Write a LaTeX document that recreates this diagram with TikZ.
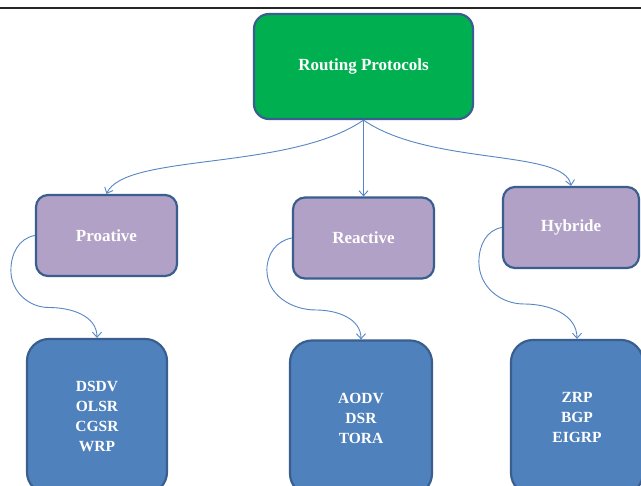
\documentclass[tikz,border=0pt]{standalone}
\usepackage{fontspec}
\setmainfont{Liberation Serif}
\usetikzlibrary{arrows.meta}
\definecolor{rootgreen}{HTML}{00B050}
\definecolor{boxborder}{HTML}{3A5F8E}
\definecolor{lavender}{HTML}{B2A1C7}
\definecolor{boxblue}{HTML}{4F81BD}
\definecolor{connblue}{HTML}{5687C4}
\tikzset{
  base/.style={draw=boxborder, line width=2.2pt, text=white, align=center, inner sep=0pt,
    font=\fontsize{17}{20}\selectfont\bfseries},
  rootbox/.style={base, fill=rootgreen, rounded corners=15pt, minimum width=219pt, minimum height=105pt},
  midbox/.style={base, fill=lavender, rounded corners=12pt, minimum height=81pt},
  leafbox/.style={base, fill=boxblue, rounded corners=22pt, minimum height=155pt,
    font=\fontsize{15.5}{20}\selectfont\bfseries},
  conn/.style={draw=connblue, line width=0.9pt, -{Straight Barb[length=5pt,width=9pt]}}
}
\begin{document}
\begin{tikzpicture}[x=1pt,y=1pt]
\useasboundingbox (0,0) rectangle (641,486);
\clip (0,0) rectangle (641,486);
\fill[white] (0,0) rectangle (641,486);
\coordinate (tl) at (0,478);
\coordinate (tr) at (641,478);
\draw[line width=1.3pt, black!85] (tl) -- (tr);

\node[rootbox] (root) at (363.5,419.5) {Routing Protocols};
\node[midbox, minimum width=141pt] (pro) at (106.5,250.5) {Proative};
\node[midbox, minimum width=141pt] (rea) at (363.5,248) {Reactive};
\node[midbox, minimum width=136pt] (hyb) at (571,258.5) {Hybride};

\node[leafbox, minimum width=140pt] (dsdv) at (97,69.5) {DSDV\\OLSR\\CGSR\\WRP};
\node[leafbox, minimum width=142pt] (aodv) at (361,68) {AODV\\DSR\\TORA};
\node[leafbox, minimum width=132pt] (zrp) at (577,68.5) {ZRP\\BGP\\EIGRP};

\draw[conn] (root.south) .. controls +(-73.5,-51) and +(18.5,41) .. (pro.north);
\draw[conn] (root.south) -- (rea.north);
\draw[conn] (root.south) .. controls +(66.5,-46) and +(-6,37) .. (hyb.north);

\draw[conn] (pro.west) to[out=190,in=90] ++(-24,-35) to[out=-90,in=180] ++(38,-37) to[out=0,in=90] (dsdv.north);
\draw[conn] (rea.west) to[out=190,in=90] ++(-25,-32) to[out=-90,in=180] ++(49,-40) to[out=0,in=90] (aodv.north);
\draw[conn] (hyb.west) to[out=190,in=90] ++(-23,-34.5) to[out=-90,in=180] ++(45,-42) to[out=0,in=90] (zrp.north);
\end{tikzpicture}
\end{document}
